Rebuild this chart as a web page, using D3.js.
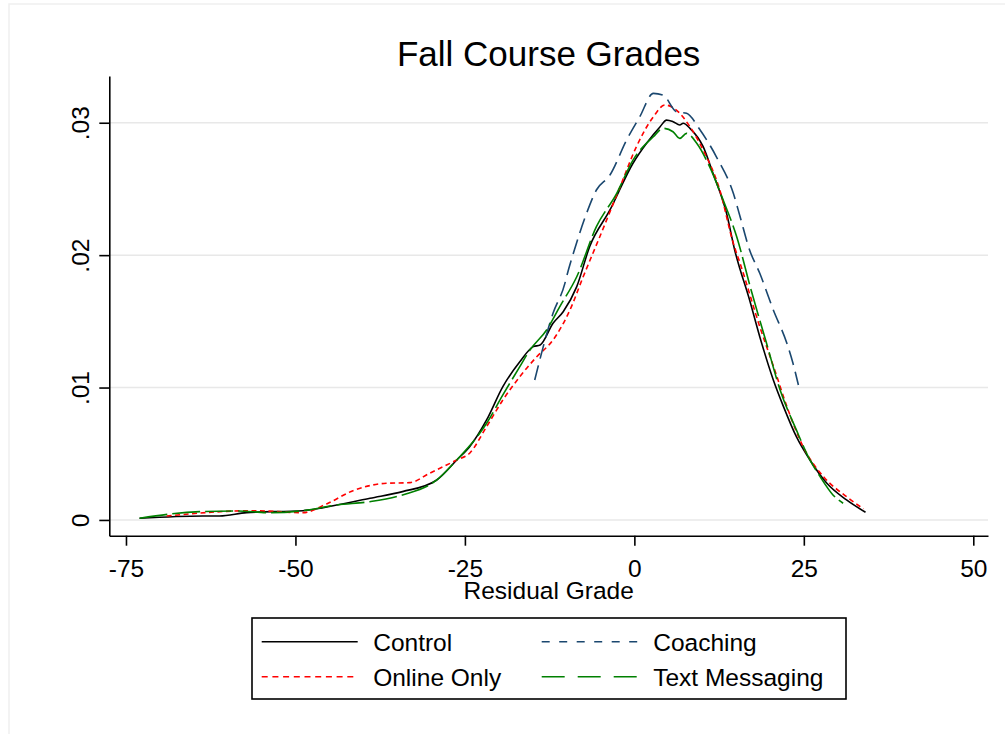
<!DOCTYPE html>
<html>
<head>
<meta charset="utf-8">
<script src="https://d3js.org/d3.v7.min.js"></script>
<style>
  body { margin: 0; background: #fff; }
  svg { display: block; font-family: "Liberation Sans", Arial, sans-serif; }
</style>
</head>
<body>
<div id="chart"></div>
<script>
const xTicks = [-75, -50, -25, 0, 25, 50];
const yTicks = [0, 0.01, 0.02, 0.03];
const yTickLabels = ['0', '.01', '.02', '.03'];

// [residual grade, density]
const control = [
  [-73.0, 0.00013], [-63.7, 0.0003], [-61.2, 0.0003], [-57.2, 0.00055], [-48.9, 0.0007],
  [-43.9, 0.00113], [-39.0, 0.00164], [-34.2, 0.00214], [-29.2, 0.0030], [-26.2, 0.00453],
  [-24.3, 0.00553], [-21.8, 0.00755], [-19.4, 0.01007], [-16.9, 0.01195], [-14.9, 0.01309],
  [-13.9, 0.01321], [-12.0, 0.01485], [-10.5, 0.01573], [-8.5, 0.01762], [-6.6, 0.02064],
  [-3.6, 0.02341], [-0.2, 0.02694], [1.8, 0.02845], [3.8, 0.0297], [4.75, 0.0302],
  [5.7, 0.03008], [6.7, 0.02983], [7.2, 0.02996], [8.2, 0.02958], [10.15, 0.02819],
  [11.6, 0.02618], [13.6, 0.02316], [14.8, 0.02039], [17.0, 0.01661], [18.5, 0.01384],
  [20.5, 0.01057], [22.0, 0.00856], [23.9, 0.00629], [25.9, 0.00453], [28.4, 0.00277],
  [31.3, 0.00151], [34.1, 0.00058]
];

const onlineOnly = [
  [-69.0, 0.0003], [-56.3, 0.0007], [-48.9, 0.00055], [-45.4, 0.00121], [-41.5, 0.00221],
  [-36.6, 0.00277], [-33.1, 0.00282], [-30.2, 0.00353], [-26.2, 0.00453], [-24.3, 0.00504],
  [-21.8, 0.00705], [-19.4, 0.00906], [-16.9, 0.01082], [-14.4, 0.01233], [-12.0, 0.01359],
  [-9.5, 0.01586], [-7.55, 0.01837], [-5.1, 0.02139], [-2.1, 0.02517], [0.3, 0.02819],
  [2.8, 0.03045], [4.5, 0.03134], [6.2, 0.03096], [8.2, 0.0297], [10.15, 0.02794],
  [12.6, 0.02492], [14.6, 0.02089], [15.6, 0.01938], [18.5, 0.0146], [20.7, 0.01133],
  [22.5, 0.00856], [24.9, 0.00553], [27.9, 0.00327], [31.3, 0.00176], [33.8, 0.00083]
];

const coaching = [
  [-14.7, 0.01057], [-12.0, 0.01561], [-10.25, 0.01787], [-10.0, 0.01837], [-9.0, 0.02014],
  [-7.05, 0.02316], [-5.6, 0.02492], [-3.6, 0.02605], [-1.15, 0.02869], [0.8, 0.03045],
  [2.8, 0.03222], [4.25, 0.03209], [6.2, 0.03083], [7.7, 0.03071], [9.7, 0.02945],
  [12.1, 0.02743], [14.6, 0.02467], [15.6, 0.0229], [17.0, 0.02039], [18.5, 0.01863],
  [20.5, 0.01586], [22.5, 0.01334], [23.4, 0.01183], [24.2, 0.01019]
];

const textMessaging = [
  [-73.0, 0.00013], [-64.1, 0.00063], [-58.7, 0.00068], [-53.8, 0.00055], [-48.9, 0.0007],
  [-43.9, 0.00113], [-39.0, 0.00138], [-34.2, 0.00189], [-29.2, 0.0030], [-26.2, 0.00453],
  [-21.8, 0.0073], [-19.4, 0.00944], [-16.9, 0.01158], [-15.4, 0.01284], [-12.95, 0.01435],
  [-11.0, 0.01611], [-8.5, 0.01837], [-5.6, 0.02215], [-2.6, 0.02467], [-0.2, 0.02718],
  [2.8, 0.02894], [4.25, 0.02958], [5.7, 0.02932], [6.7, 0.02882], [7.7, 0.0292],
  [9.2, 0.02845], [11.1, 0.02668], [13.1, 0.02416], [15.1, 0.02139], [17.2, 0.0174],
  [19.5, 0.01334], [21.5, 0.00982], [23.9, 0.0068], [25.9, 0.00453], [27.4, 0.00327],
  [29.3, 0.00189], [30.8, 0.00126]
];

const series = [
  { name: 'Control', values: control, color: '#000000', dash: null, keyDash: null },
  { name: 'Online Only', values: onlineOnly, color: '#ff0000', dash: '5,3.5', keyDash: '6,4.7' },
  { name: 'Coaching', values: coaching, color: '#1a476f', dash: '15,7', keyDash: '8,9.5' },
  { name: 'Text Messaging', values: textMessaging, color: '#008000', dash: '28,5', keyDash: '23,13' }
];
// legend reads across rows
const legendOrder = ['Control', 'Coaching', 'Online Only', 'Text Messaging'];

const width = 1005, height = 734;
const plot = { left: 109.3, right: 988, top: 76, bottom: 535.7 };

const svg = d3.select('#chart').append('svg')
  .attr('width', width)
  .attr('height', height);

svg.append('rect').attr('width', width).attr('height', height).attr('fill', '#fff');

// faint outer frame
svg.append('rect')
  .attr('x', 9).attr('y', 4)
  .attr('width', 1010).attr('height', 740)
  .attr('fill', 'none')
  .attr('stroke', '#efefef')
  .attr('stroke-width', 1.5);

const x = d3.scaleLinear().domain([-77.46, 52.17]).range([plot.left, plot.right]);
const y = d3.scaleLinear().domain([-0.00119, 0.03353]).range([plot.bottom, plot.top]);

// gridlines
svg.append('g')
  .selectAll('line')
  .data(yTicks)
  .join('line')
  .attr('x1', plot.left)
  .attr('x2', plot.right)
  .attr('y1', d => y(d))
  .attr('y2', d => y(d))
  .attr('stroke', '#e8e8e8')
  .attr('stroke-width', 1.5);

// curves
const line = d3.line()
  .x(d => x(d[0]))
  .y(d => y(d[1]))
  .curve(d3.curveMonotoneX);

svg.append('g')
  .selectAll('path')
  .data(series)
  .join('path')
  .attr('d', d => line(d.values))
  .attr('fill', 'none')
  .attr('stroke', d => d.color)
  .attr('stroke-width', 1.6)
  .attr('stroke-dasharray', d => d.dash)
  .attr('stroke-linejoin', 'round');

// axes
const xAxis = svg.append('g')
  .attr('transform', `translate(0,${plot.bottom})`)
  .call(d3.axisBottom(x).tickValues(xTicks).tickSize(10).tickSizeOuter(0).tickFormat(d => String(d)));

xAxis.selectAll('text')
  .attr('y', 41)
  .attr('dy', 0)
  .attr('fill', '#000')
  .style('font-size', '24.5px');

const yAxis = svg.append('g')
  .attr('transform', `translate(${plot.left},0)`)
  .call(d3.axisLeft(y).tickValues(yTicks).tickSize(10).tickSizeOuter(0)
    .tickFormat((d, i) => yTickLabels[i]));

yAxis.selectAll('text')
  .attr('transform', 'rotate(-90)')
  .attr('x', 0)
  .attr('y', -20)
  .attr('dy', 0)
  .attr('text-anchor', 'middle')
  .attr('fill', '#000')
  .style('font-size', '24.5px');

svg.selectAll('.domain, .tick line')
  .attr('stroke', '#000')
  .attr('stroke-width', 1.6);

svg.selectAll('.tick text').style('font-family', '"Liberation Sans", Arial, sans-serif');

// title and axis title
svg.append('text')
  .attr('x', (plot.left + plot.right) / 2)
  .attr('y', 66)
  .attr('text-anchor', 'middle')
  .style('font-size', '35px')
  .text('Fall Course Grades');

svg.append('text')
  .attr('x', (plot.left + plot.right) / 2)
  .attr('y', 599)
  .attr('text-anchor', 'middle')
  .style('font-size', '24.5px')
  .text('Residual Grade');

// Legend
const legend = svg.append('g');
legend.append('rect')
  .attr('x', 252).attr('y', 618)
  .attr('width', 594).attr('height', 81)
  .attr('fill', '#fff')
  .attr('stroke', '#000')
  .attr('stroke-width', 1.6);

const colX = [261.7, 541.7];
const rowY = [641.7, 676.7];

legendOrder.forEach((name, i) => {
  const s = series.find(d => d.name === name);
  const cx = colX[i % 2];
  const cy = rowY[Math.floor(i / 2)];
  legend.append('line')
    .attr('x1', cx).attr('x2', cx + 96)
    .attr('y1', cy).attr('y2', cy)
    .attr('stroke', s.color)
    .attr('stroke-width', 1.6)
    .attr('stroke-dasharray', s.keyDash);
  legend.append('text')
    .attr('x', cx + 111.5)
    .attr('y', cy + 9.5)
    .style('font-size', '24.5px')
    .text(name);
});
</script>
</body>
</html>
